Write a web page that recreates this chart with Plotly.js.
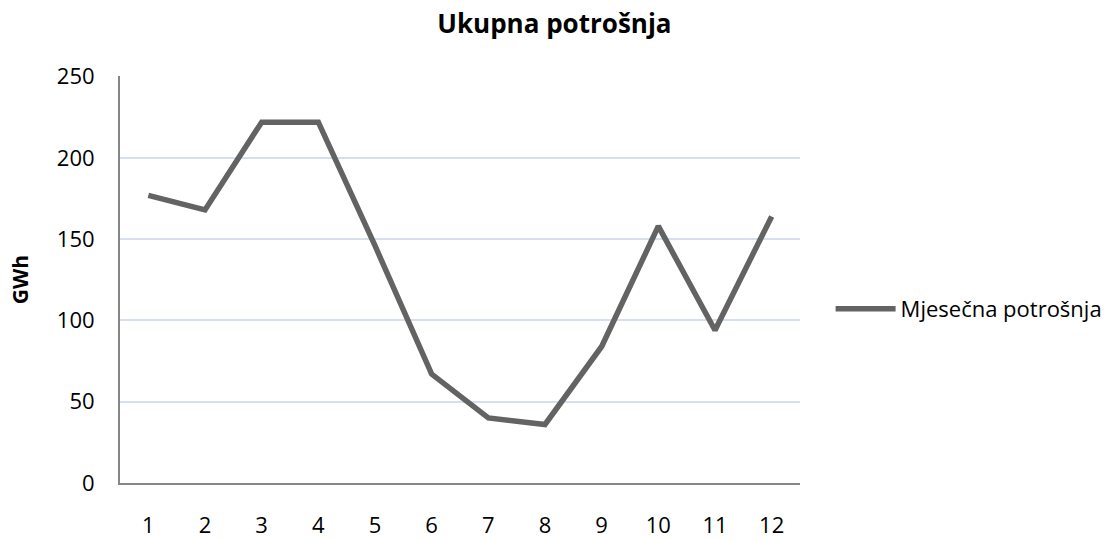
<!DOCTYPE html>
<html>
<head>
<meta charset="utf-8">
<script src="https://cdn.plot.ly/plotly-3.0.1.min.js"></script>
<style>html,body{margin:0;padding:0;background:#fff;}#chart{width:1114px;height:539px;}</style>
</head>
<body>
<div id="chart"></div>
<script>
var months = ['1','2','3','4','5','6','7','8','9','10','11','12'];
var consumption = [177, 168, 222, 222, 146, 67, 40, 36, 84, 158, 94, 164];
var seriesName = 'Mjesečna potrošnja';
var chartTitle = 'Ukupna potrošnja';
var yTitle = 'GWh';
var yTicks = [0, 50, 100, 150, 200, 250];

var FONT = '"Open Sans", "Noto Sans", sans-serif';
var trace = {
  x: months, y: consumption, type: 'scatter', mode: 'lines', name: seriesName,
  line: {color: '#636363', width: 5.5}
};
var layout = {
  width: 1114, height: 539,
  margin: {l: 120, r: 314, t: 76, b: 56, autoexpand: false},
  paper_bgcolor: '#fff', plot_bgcolor: '#fff',
  font: {family: FONT, size: 22, color: '#000'},
  title: {text: '<b>' + chartTitle + '</b>', x: 0.4977, xref: 'container', y: 0.955, yanchor: 'middle', font: {family: FONT, size: 26, color: '#000'}},
  showlegend: true,
  legend: {x: 1.045, y: 0.4275, xanchor: 'left', yanchor: 'middle', itemwidth: 60, font: {family: FONT, size: 22, color: '#000'}, bgcolor: 'rgba(0,0,0,0)'},
  xaxis: {
    type: 'category', range: [-0.5, 11.5], showgrid: false, zeroline: false,
    showline: true, linecolor: '#868686', linewidth: 2, ticks: '', ticklabelstandoff: 22,
    tickfont: {family: FONT, size: 22, color: '#000'}, fixedrange: true
  },
  yaxis: {
    range: [0, 250.4], tickvals: yTicks, ticktext: yTicks.map(String),
    showgrid: true, gridcolor: '#d5dfee', gridwidth: 2, zeroline: false,
    showline: true, linecolor: '#868686', linewidth: 2, ticks: '', ticklabelstandoff: 19,
    tickfont: {family: FONT, size: 22, color: '#000'},
    title: {text: '<b>' + yTitle + '</b>', font: {family: FONT, size: 21, color: '#000'}, standoff: 22},
    fixedrange: true
  }
};
Plotly.newPlot('chart', [trace], layout, {displayModeBar: false, staticPlot: true});
</script>
</body>
</html>
